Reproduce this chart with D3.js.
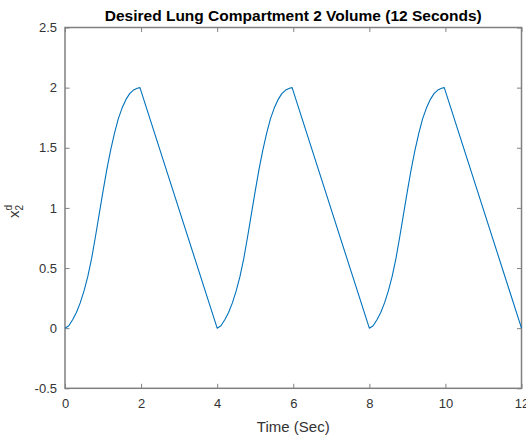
<!DOCTYPE html>
<html>
<head>
<meta charset="utf-8">
<script src="https://cdn.jsdelivr.net/npm/d3@7"></script>
<style>
  body { margin: 0; background: #fff; }
  text { font-family: "Liberation Sans", Arial, Helvetica, sans-serif; }
</style>
</head>
<body>
<div id="chart"></div>
<script>
// values
const timeSec = [
  0, 0.1, 0.2, 0.3, 0.4, 0.5, 0.6, 0.7, 0.8, 0.9, 1.0, 1.1, 1.2, 1.3, 1.4, 1.5, 1.6, 1.7, 1.8, 1.9, 1.97,
  4, 4.1, 4.2, 4.3, 4.4, 4.5, 4.6, 4.7, 4.8, 4.9, 5.0, 5.1, 5.2, 5.3, 5.4, 5.5, 5.6, 5.7, 5.8, 5.9, 5.97,
  8, 8.1, 8.2, 8.3, 8.4, 8.5, 8.6, 8.7, 8.8, 8.9, 9.0, 9.1, 9.2, 9.3, 9.4, 9.5, 9.6, 9.7, 9.8, 9.9, 9.97,
  12
];
const volume = [
  0, 0.02, 0.07, 0.13, 0.21, 0.31, 0.43, 0.58, 0.76, 0.95, 1.14, 1.32, 1.48, 1.62, 1.74, 1.83, 1.90, 1.95, 1.98, 1.995, 2.0,
  0, 0.02, 0.07, 0.13, 0.21, 0.31, 0.43, 0.58, 0.76, 0.95, 1.14, 1.32, 1.48, 1.62, 1.74, 1.83, 1.90, 1.95, 1.98, 1.995, 2.0,
  0, 0.02, 0.07, 0.13, 0.21, 0.31, 0.43, 0.58, 0.76, 0.95, 1.14, 1.32, 1.48, 1.62, 1.74, 1.83, 1.90, 1.95, 1.98, 1.995, 2.0,
  0
];
const xTicks = [0, 2, 4, 6, 8, 10, 12];
const yTicks = [-0.5, 0, 0.5, 1, 1.5, 2, 2.5];

const width = 526, height = 440;
const box = { left: 65, right: 521.5, top: 27.5, bottom: 388.3 };

const svg = d3.select("#chart").append("svg")
    .attr("width", width)
    .attr("height", height);

const x = d3.scaleLinear().domain([0, 12]).range([box.left, box.right]);
const y = d3.scaleLinear().domain([-0.5, 2.5]).range([box.bottom, box.top]);

const axisColor = "#808080";
const labelColor = "#333";

// tick marks pointing inward, mirrored on top and right
function styleAxis(g) {
  g.select(".domain").remove();
  g.selectAll(".tick line").attr("stroke", axisColor).attr("stroke-width", 1);
  g.selectAll(".tick text").attr("fill", labelColor).style("font-size", "13px");
}

svg.append("g")
    .attr("transform", `translate(0,${box.bottom})`)
    .call(d3.axisBottom(x).tickValues(xTicks).tickSizeInner(-4.5).tickSizeOuter(0).tickPadding(10))
    .call(styleAxis);

svg.append("g")
    .attr("transform", `translate(0,${box.top})`)
    .call(d3.axisTop(x).tickValues(xTicks).tickSizeInner(-4.5).tickSizeOuter(0).tickFormat(""))
    .call(styleAxis);

svg.append("g")
    .attr("transform", `translate(${box.left},0)`)
    .call(d3.axisLeft(y).tickValues(yTicks).tickSizeInner(-4.5).tickSizeOuter(0).tickPadding(8)
      .tickFormat(d => String(d)))
    .call(styleAxis);

svg.append("g")
    .attr("transform", `translate(${box.right},0)`)
    .call(d3.axisRight(y).tickValues(yTicks).tickSizeInner(-4.5).tickSizeOuter(0).tickFormat(""))
    .call(styleAxis);

// axes box
svg.append("rect")
    .attr("x", box.left).attr("y", box.top)
    .attr("width", box.right - box.left).attr("height", box.bottom - box.top)
    .attr("fill", "none")
    .attr("stroke", axisColor)
    .attr("stroke-width", 1.5);

// the curve
const pts = timeSec.map((t, i) => [t, volume[i]]);
const line = d3.line().x(d => x(d[0])).y(d => y(d[1]));

svg.append("path")
    .datum(pts)
    .attr("d", line)
    .attr("fill", "none")
    .attr("stroke", "#0072BD")
    .attr("stroke-width", 1.1)
    .attr("stroke-linejoin", "round");

// title
svg.append("text")
    .attr("x", (box.left + box.right) / 2)
    .attr("y", 21)
    .attr("text-anchor", "middle")
    .style("font-size", "15.5px")
    .style("font-weight", "bold")
    .attr("fill", "#000")
    .text("Desired Lung Compartment 2 Volume (12 Seconds)");

// x label
svg.append("text")
    .attr("x", (box.left + box.right) / 2)
    .attr("y", 432)
    .attr("text-anchor", "middle")
    .style("font-size", "15px")
    .attr("fill", labelColor)
    .text("Time (Sec)");

// y label: x with subscript 2 and superscript d
const yl = svg.append("text")
    .attr("transform", "translate(19,218) rotate(-90)")
    .style("font-size", "15px")
    .attr("fill", labelColor);
yl.append("tspan").text("x");
yl.append("tspan").attr("dy", 4).style("font-size", "10px").text("2");
yl.append("tspan").attr("dx", -5.6).attr("dy", -11).style("font-size", "10px").text("d");

console.log("chart drawn");
</script>
</body>
</html>
